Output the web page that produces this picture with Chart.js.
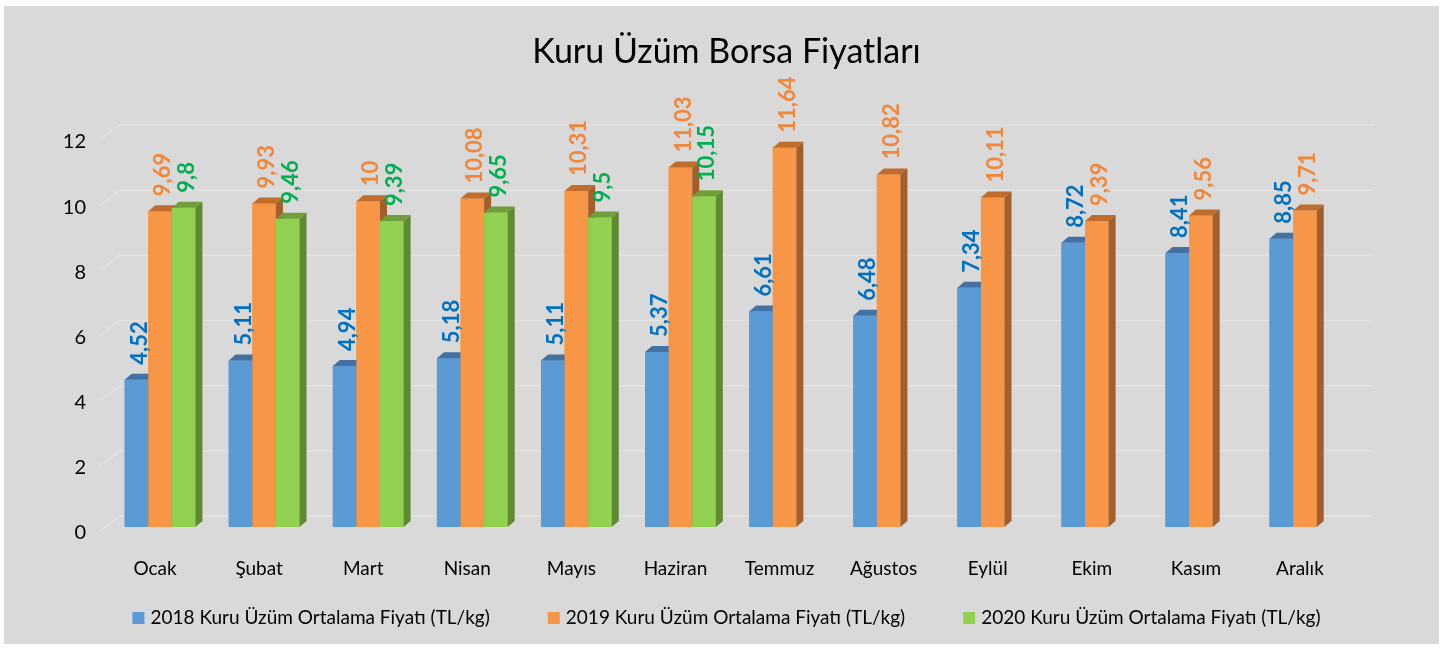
<!DOCTYPE html>
<html lang="tr">
<head>
<meta charset="utf-8">
<title>Kuru Üzüm Borsa Fiyatları</title>
<script src="https://cdn.jsdelivr.net/npm/chart.js@4.4.1/dist/chart.umd.min.js"></script>
<style>
  html, body { margin: 0; padding: 0; background: #fff; }
  #wrap { width: 1453px; height: 648px; }
</style>
</head>
<body>
<div id="wrap"><canvas id="chart"></canvas></div>
<script>
const months = ["Ocak", "Şubat", "Mart", "Nisan", "Mayıs", "Haziran", "Temmuz", "Ağustos", "Eylül", "Ekim", "Kasım", "Aralık"];
const fiyat2018 = [4.52, 5.11, 4.94, 5.18, 5.11, 5.37, 6.61, 6.48, 7.34, 8.72, 8.41, 8.85];
const fiyat2019 = [9.69, 9.93, 10, 10.08, 10.31, 11.03, 11.64, 10.82, 10.11, 9.39, 9.56, 9.71];
const fiyat2020 = [9.8, 9.46, 9.39, 9.65, 9.5, 10.15, null, null, null, null, null, null];
const yTicks = [0, 2, 4, 6, 8, 10, 12];
const chartTitle = "Kuru Üzüm Borsa Fiyatları";

const FONT = "Lato, 'Open Sans', sans-serif";

// front, top, side, label colours per series
const styles = [
  { front: "#5b9bd5", top: "#4272a3", side: "#3f6e9c", text: "#0070c0" },
  { front: "#f79646", top: "#c06c2c", side: "#a35f2b", text: "#f0873a" },
  { front: "#92d050", top: "#6f9e3a", side: "#5f8a31", text: "#00b050" }
];
const DX = 7, DY = 6; // depth of the fake 3d

const bgPlugin = {
  id: "bg",
  beforeDraw(chart) {
    const ctx = chart.ctx;
    ctx.save();
    ctx.fillStyle = "#ffffff";
    ctx.fillRect(0, 0, chart.width, chart.height);
    ctx.fillStyle = "#d9d9d9";
    ctx.fillRect(4, 6, 1435, 638);
    // title, centred on the whole picture
    ctx.fillStyle = "#000";
    ctx.font = "34px " + FONT;
    ctx.textAlign = "center";
    ctx.textBaseline = "middle";
    ctx.fillText(chartTitle, chart.width / 2, 52);
    ctx.restore();
  }
};

const gridPlugin = {
  id: "grid3d",
  beforeDatasetsDraw(chart) {
    const ctx = chart.ctx;
    const ys = chart.scales.y;
    const left = chart.chartArea.left;
    const right = chart.chartArea.right;
    ctx.save();
    ctx.strokeStyle = "#e3e3e3";
    ctx.lineWidth = 1.5;
    yTicks.forEach(v => {
      const y = ys.getPixelForValue(v);
      ctx.beginPath();
      ctx.moveTo(left - 8, y + 4);
      ctx.lineTo(left + 12, y - 11);
      ctx.lineTo(right + 16, y - 11);
      ctx.stroke();
    });
    ctx.restore();
  }
};

const bar3dPlugin = {
  id: "bar3d",
  afterDatasetsDraw(chart) {
    const ctx = chart.ctx;
    ctx.save();
    for (let i = 0; i < months.length; i++) {
      chart.data.datasets.forEach((ds, d) => {
        if (ds.data[i] == null) return;
        const el = chart.getDatasetMeta(d).data[i];
        const { x, y, base, width } = el.getProps(["x", "y", "base", "width"], true);
        const l = x - width / 2, r = x + width / 2;
        const s = styles[d];
        ctx.fillStyle = s.front;
        ctx.fillRect(l, y, width, base - y);
        ctx.fillStyle = s.top;
        ctx.beginPath();
        ctx.moveTo(l, y);
        ctx.lineTo(l + DX, y - DY);
        ctx.lineTo(r + DX, y - DY);
        ctx.lineTo(r, y);
        ctx.closePath();
        ctx.fill();
        ctx.fillStyle = s.side;
        ctx.beginPath();
        ctx.moveTo(r, y);
        ctx.lineTo(r + DX, y - DY);
        ctx.lineTo(r + DX, base - DY);
        ctx.lineTo(r, base);
        ctx.closePath();
        ctx.fill();
      });
    }
    // value labels, rotated
    ctx.font = "bold 22px " + FONT;
    ctx.textAlign = "left";
    ctx.textBaseline = "middle";
    chart.data.datasets.forEach((ds, d) => {
      const meta = chart.getDatasetMeta(d);
      ds.data.forEach((v, i) => {
        if (v == null) return;
        const el = meta.data[i];
        ctx.save();
        ctx.translate(el.x + 3, el.y - 15);
        ctx.rotate(-Math.PI / 2);
        ctx.fillStyle = styles[d].text;
        ctx.fillText(String(v).replace(".", ","), 0, 0);
        ctx.restore();
      });
    });
    ctx.restore();
  }
};

const legendPlugin = {
  id: "legendBottom",
  afterDraw(chart) {
    const ctx = chart.ctx;
    ctx.save();
    ctx.font = "19px " + FONT;
    ctx.textBaseline = "middle";
    ctx.textAlign = "left";
    const gap = 58, box = 12, sp = 6;
    const items = chart.data.datasets.map((ds, d) => ({ text: ds.label, color: styles[d].front, w: ctx.measureText(ds.label).width }));
    const total = items.reduce((a, it) => a + box + sp + it.w, 0) + gap * (items.length - 1);
    let x = (chart.width - total) / 2;
    const y = 618;
    items.forEach(it => {
      ctx.fillStyle = it.color;
      ctx.fillRect(x, y - box / 2, box, box);
      ctx.fillStyle = "#000";
      ctx.fillText(it.text, x + box + sp, y);
      x += box + sp + it.w + gap;
    });
    ctx.restore();
  }
};

new Chart(document.getElementById("chart"), {
  type: "bar",
  data: {
    labels: months,
    datasets: [
      { label: "2018 Kuru Üzüm Ortalama Fiyatı (TL/kg)", data: fiyat2018, backgroundColor: styles[0].front },
      { label: "2019 Kuru Üzüm Ortalama Fiyatı (TL/kg)", data: fiyat2019, backgroundColor: styles[1].front },
      { label: "2020 Kuru Üzüm Ortalama Fiyatı (TL/kg)", data: fiyat2020, backgroundColor: styles[2].front }
    ]
  },
  options: {
    responsive: true,
    maintainAspectRatio: false,
    animation: false,
    categoryPercentage: 0.68,
    barPercentage: 1,
    layout: { padding: { left: 0, right: 96, top: 136, bottom: 0 } },
    plugins: {
      legend: { display: false },
      tooltip: { enabled: false },
      title: { display: false }
    },
    scales: {
      x: {
        grid: { display: false },
        border: { display: false },
        ticks: { color: "#000", font: { family: FONT, size: 19 }, padding: 22, labelOffset: -5, maxRotation: 0 },
        afterFit(scale) { scale.height = 121; }
      },
      y: {
        min: 0,
        max: 12,
        grid: { display: false },
        border: { display: false },
        ticks: { stepSize: 2, color: "#000", font: { family: FONT, size: 20 }, padding: 14, labelOffset: 6 },
        afterFit(scale) { scale.width = 108; }
      }
    }
  },
  plugins: [bgPlugin, gridPlugin, bar3dPlugin, legendPlugin]
});
</script>
</body>
</html>
